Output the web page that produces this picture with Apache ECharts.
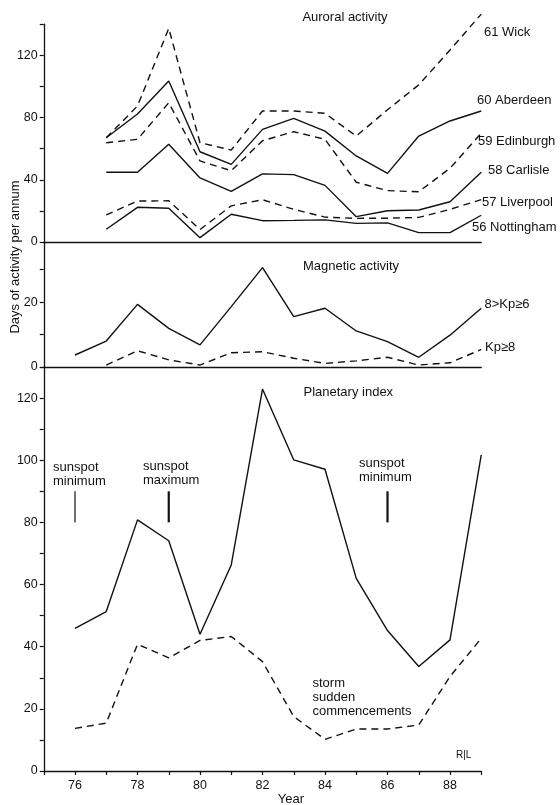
<!DOCTYPE html>
<html>
<head>
<meta charset="utf-8">
<script src="https://cdn.jsdelivr.net/npm/echarts@6/dist/echarts.min.js"></script>
<style>
html,body{margin:0;padding:0;background:#fff;}
#chart{width:560px;height:805px;}
</style>
</head>
<body>
<div id="chart"></div>
<script>
// ---- Data ----
var yearsAur = [77,78,79,80,81,82,83,84,85,86,87,88,89];
var wick       = [67, 87.4, 137.3, 63.8, 59.1, 84.2, 84.2, 82.7, 68.1, 85, 101, 123.4, 146.5];
var aberdeen   = [67, 82.3, 103.5, 58, 49.9, 72.4, 79.5, 71.3, 55.3, 44.1, 68.1, 77.8, 84.2];
var edinburgh  = [63.8, 66, 89.5, 52.1, 45.8, 65.1, 70.9, 66, 38.4, 33, 32.3, 47.4, 69.9];
var carlisle   = [44.8, 44.8, 62.8, 41.2, 32.5, 43.8, 43.3, 36.4, 16.3, 20.1, 20.6, 25.9, 44.8];
var liverpool  = [17.4, 26.3, 26.5, 8, 23.2, 27.2, 21, 16, 15.2, 15.3, 15.8, 21, 27.2];
var nottingham = [8.2, 22.3, 21.7, 2.8, 17.8, 13.7, 13.9, 14.2, 12, 12.3, 6, 6, 17.2];

var yearsMag = [76,77,78,79,80,81,82,83,84,85,86,87,88,89];
var kp6 = [3.7, 8, 19.3, 11.9, 6.8, 18.6, 30.6, 15.5, 18.1, 11.1, 7.8, 3, 9.8, 18.1];
var yearsKp8 = [77,78,79,80,81,82,83,84,85,86,87,88,89];
var kp8 = [0.6, 5, 2.2, 0.6, 4.4, 4.7, 2.7, 1.1, 1.9, 3, 0.6, 1.3, 5.4];

var yearsPlan = [76,77,78,79,80,81,82,83,84,85,86,87,88,89];
var planetary = [45.9, 51.3, 80.8, 74.1, 44, 66.3, 122.9, 100.1, 97.1, 62, 45.2, 33.6, 42.2, 101.7];
var storms    = [13.7, 15.4, 40.8, 36.4, 42, 43.3, 35.2, 17.5, 10.2, 13.5, 13.5, 14.8, 30.4, 42.7];

var sunspotYears  = [76, 79, 86];
var sunspotRange  = [80, 90];
var sunspotLabels = ['sunspot\nminimum', 'sunspot\nmaximum', 'sunspot\nminimum'];

var stationLabels = ['61 Wick', '60 Aberdeen', '59 Edinburgh', '58 Carlisle', '57 Liverpool', '56 Nottingham'];
var magLabels = ['8>Kp≥6', 'Kp≥8'];
var xTickLabels = [76, 78, 80, 82, 84, 86, 88];

// ---- Build ----
function pairs(xs, ys){ return xs.map(function(x,i){ return [x, ys[i]]; }); }

var FONT = '"Liberation Sans", Arial, Helvetica, sans-serif';
var INK = '#111';
var DASH = [7, 5];
var LEFT = 43.75, RIGHT = 560 - 481.25;

var chart = echarts.init(document.getElementById('chart'), null, {renderer:'canvas'});

function baseX(idx, showBottom){
  return {
    type:'value', gridIndex:idx, min:75, max:89, interval:1,
    axisLine:{show:true, onZero:false, lineStyle:{color:INK, width:1.3}},
    axisTick:{show:showBottom, length:4, inside:false, lineStyle:{color:INK, width:1.2}},
    axisLabel:{show:showBottom, margin:8, color:INK, fontSize:12.5, fontFamily:FONT,
      customValues: xTickLabels,
      formatter:function(v){ return String(v); }},
    splitLine:{show:false}
  };
}
function baseY(idx, max, tickVals, labelVals){
  return {
    type:'value', gridIndex:idx, min:0, max:max,
    axisLine:{show:true, lineStyle:{color:INK, width:1.3}},
    axisTick:{show:true, length:4, lineStyle:{color:INK, width:1.2}, customValues:tickVals},
    axisLabel:{show:true, margin:6, color:INK, fontSize:12.5, fontFamily:FONT, customValues:labelVals},
    splitLine:{show:false}
  };
}

function lineSeries(xi, data, dashed){
  return {
    type:'line', xAxisIndex:xi, yAxisIndex:xi, data:data,
    showSymbol:false, symbol:'none', clip:false, silent:true, animation:false,
    lineStyle:{color:INK, width:1.4, type: dashed ? DASH : 'solid'}
  };
}

var series = [
  lineSeries(0, pairs(yearsAur, wick), true),
  lineSeries(0, pairs(yearsAur, aberdeen), false),
  lineSeries(0, pairs(yearsAur, edinburgh), true),
  lineSeries(0, pairs(yearsAur, carlisle), false),
  lineSeries(0, pairs(yearsAur, liverpool), true),
  lineSeries(0, pairs(yearsAur, nottingham), false),
  lineSeries(1, pairs(yearsMag, kp6), false),
  lineSeries(1, pairs(yearsKp8, kp8), true),
  lineSeries(2, pairs(yearsPlan, planetary), false),
  lineSeries(2, pairs(yearsPlan, storms), true)
];
sunspotYears.forEach(function(y, i){
  var s = lineSeries(2, [[y, sunspotRange[0]], [y, sunspotRange[1]]], false);
  s.lineStyle.width = i === 0 ? 1.2 : 2.2;
  series.push(s);
});

function txt(text, x, y, opts){
  opts = opts || {};
  return {
    type:'text', x:x, y:y, rotation: opts.rotation || 0, silent:true,
    style:{text:text, fill:INK, font: (opts.size||13) + 'px ' + FONT,
      textAlign: opts.align || 'left', textVerticalAlign: opts.valign || 'middle',
      lineHeight: opts.lh || 14}
  };
}

var graphics = [
  txt('Auroral activity', 345, 17, {align:'center'}),
  txt('Magnetic activity', 303, 266),
  txt('Planetary index', 303.5, 392),
  txt(stationLabels[0], 484, 32),
  txt(stationLabels[1], 477, 100),
  txt(stationLabels[2], 478, 141),
  txt(stationLabels[3], 488, 170),
  txt(stationLabels[4], 482, 202),
  txt(stationLabels[5], 472, 227),
  txt(magLabels[0], 484.5, 304),
  txt(magLabels[1], 485, 347),
  txt(sunspotLabels[0], 53, 460, {valign:'top'}),
  txt(sunspotLabels[1], 143, 459, {valign:'top'}),
  txt(sunspotLabels[2], 359, 456, {valign:'top'}),
  txt('storm\nsudden\ncommencements', 312.5, 676, {valign:'top'}),
  txt('Year', 291, 799, {align:'center'}),
  txt('Days of activity per annum', 15, 257, {align:'center', rotation:Math.PI/2}),
  txt('R|L', 456, 755, {size:10})
];

var option = {
  backgroundColor:'#fff',
  animation:false,
  grid:[
    {left:LEFT, right:RIGHT, top:24.2, height:217.8},
    {left:LEFT, right:RIGHT, top:242, height:125},
    {left:LEFT, right:RIGHT, top:367, height:404}
  ],
  xAxis:[ baseX(0,false), baseX(1,false), baseX(2,true) ],
  yAxis:[
    baseY(0, 140, [0,20,40,60,80,100,120,140], [0,40,80,120]),
    baseY(1, 38.5, [0,10,20,30], [0,20]),
    baseY(2, 130, [0,10,20,30,40,50,60,70,80,90,100,110,120,130], [0,20,40,60,80,100,120])
  ],
  series:series,
  graphic:graphics
};
chart.setOption(option);
</script>
</body>
</html>
